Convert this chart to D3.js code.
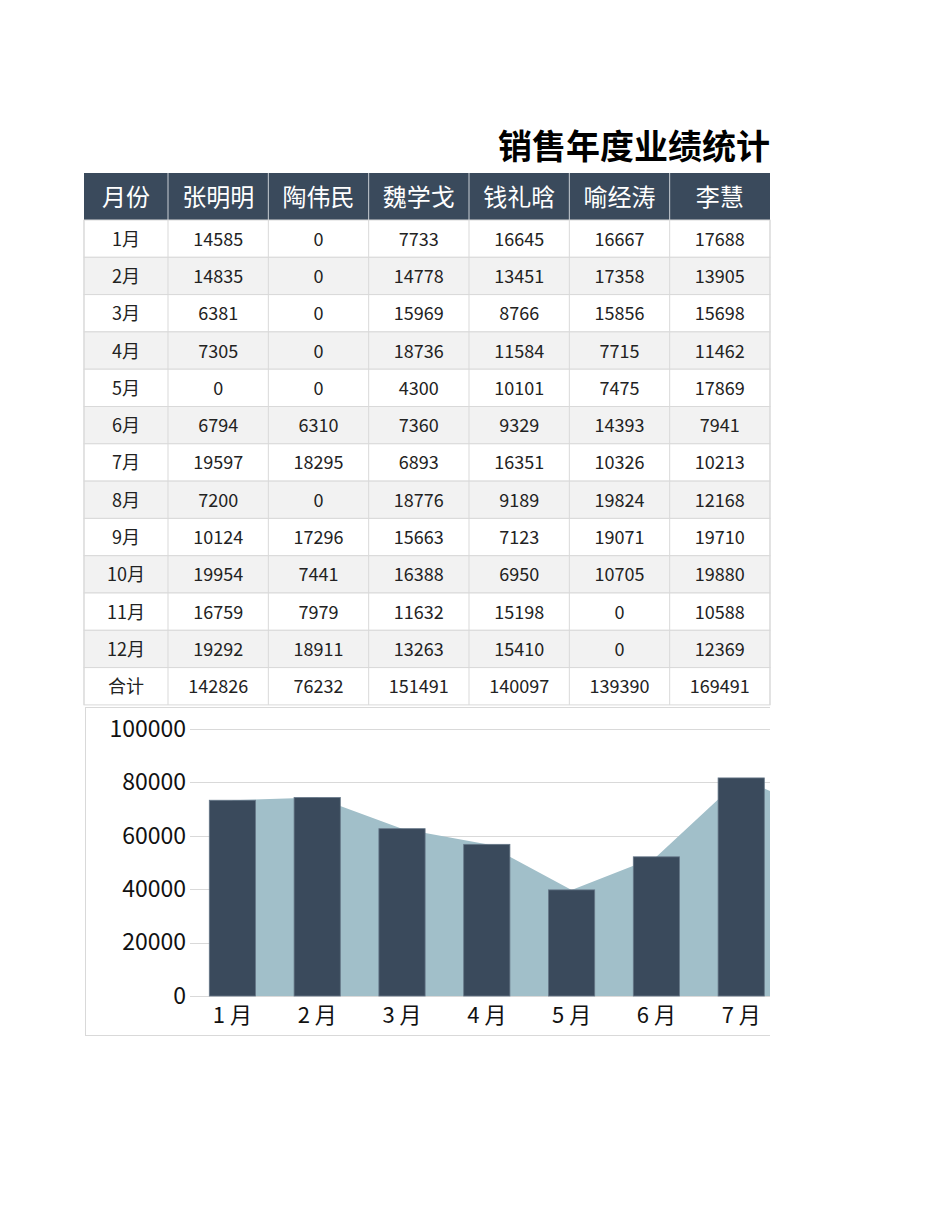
<!DOCTYPE html>
<html>
<head>
<meta charset="utf-8">
<script src="https://cdn.jsdelivr.net/npm/d3@7"></script>
<style>
  body { margin: 0; background: #fff; }
  svg text { font-family: "Noto Sans CJK SC", "Microsoft YaHei", sans-serif; }
</style>
</head>
<body>
<div id="page"></div>
<script>
// Data read from the sheet
var title = '销售年度业绩统计';
var firstHeader = '月份';
var totalLabel = '合计';
var months = ['1月', '2月', '3月', '4月', '5月', '6月', '7月', '8月', '9月', '10月', '11月', '12月'];
var people = ['张明明', '陶伟民', '魏学戈', '钱礼晗', '喻经涛', '李慧'];
var zhangMingming = [14585, 14835, 6381, 7305, 0, 6794, 19597, 7200, 10124, 19954, 16759, 19292];
var taoWeimin = [0, 0, 0, 0, 0, 6310, 18295, 0, 17296, 7441, 7979, 18911];
var weiXuege = [7733, 14778, 15969, 18736, 4300, 7360, 6893, 18776, 15663, 16388, 11632, 13263];
var qianLihan = [16645, 13451, 8766, 11584, 10101, 9329, 16351, 9189, 7123, 6950, 15198, 15410];
var yuJingtao = [16667, 17358, 15856, 7715, 7475, 14393, 10326, 19824, 19071, 10705, 0, 0];
var liHui = [17688, 13905, 15698, 11462, 17869, 7941, 10213, 12168, 19710, 19880, 10588, 12369];
var yTicks = [0, 20000, 40000, 60000, 80000, 100000];

(function() {

	var series = [zhangMingming, taoWeimin, weiXuege, qianLihan, yuJingtao, liHui];
	var dark = '#3a4a5c',
		light = '#a1bfc9',
		grid = '#d9d9d9',
		numFont = '"Open Sans", "Noto Sans CJK SC", sans-serif';

	// Month totals and person totals
	var monthTotals = months.map(function(m, i) {
		return d3.sum(series, function(s) { return s[i]; });
	});
	var personTotals = series.map(function(s) { return d3.sum(s); });

	var svg = d3.select('#page').append('svg')
		.attr('width', 950)
		.attr('height', 1230);

	// Title
	svg.append('text')
		.attr('x', 770)
		.attr('y', 159)
		.attr('text-anchor', 'end')
		.attr('font-size', 34)
		.attr('font-weight', 'bold')
		.attr('fill', '#000')
		.text(title);

	// Table layout
	var tableLeft = 84,
		tableRight = 770,
		firstColW = 84,
		headTop = 173,
		headH = 47,
		rowH = 37.3;

	var xCol = d3.scaleBand()
		.domain(people)
		.range([tableLeft + firstColW, tableRight]);

	var rows = months.map(function(m, i) {
		return [m].concat(series.map(function(s) { return s[i]; }));
	});
	rows.push([totalLabel].concat(personTotals));

	var colX = [tableLeft].concat(people.map(function(p) { return xCol(p); }));
	var colW = [firstColW].concat(people.map(function() { return xCol.bandwidth(); }));

	var gTable = svg.append('g').attr('class', 'table');

	// Header
	var header = [firstHeader].concat(people);
	gTable.append('rect')
		.attr('x', tableLeft)
		.attr('y', headTop)
		.attr('width', tableRight - tableLeft)
		.attr('height', headH)
		.attr('fill', dark);
	header.forEach(function(h, j) {
		if (j > 0) {
			gTable.append('line')
				.attr('x1', colX[j]).attr('x2', colX[j])
				.attr('y1', headTop).attr('y2', headTop + headH)
				.attr('stroke', '#c8ced4')
				.attr('stroke-width', 1);
		}
		gTable.append('text')
			.attr('x', colX[j] + colW[j] / 2)
			.attr('y', headTop + headH / 2 + 9)
			.attr('text-anchor', 'middle')
			.attr('font-size', 24)
			.attr('fill', '#fff')
			.text(h);
	});

	// Body rows
	var bodyTop = headTop + headH;
	rows.forEach(function(r, i) {
		var y = bodyTop + i * rowH;
		gTable.append('rect')
			.attr('x', tableLeft)
			.attr('y', y)
			.attr('width', tableRight - tableLeft)
			.attr('height', rowH)
			.attr('fill', i % 2 === 1 ? '#f2f2f2' : '#fff')
			.attr('stroke', grid)
			.attr('stroke-width', 1);
		r.forEach(function(v, j) {
			gTable.append('text')
				.attr('x', colX[j] + colW[j] / 2)
				.attr('y', y + rowH / 2 + 7)
				.attr('text-anchor', 'middle')
				.attr('font-size', 18)
				.attr('font-family', typeof v === 'number' ? numFont : null)
				.attr('fill', '#222')
				.text(v);
		});
	});
	// Vertical grid lines of body
	colX.slice(1).concat([tableRight, tableLeft]).forEach(function(x) {
		gTable.append('line')
			.attr('x1', x).attr('x2', x)
			.attr('y1', bodyTop).attr('y2', bodyTop + rows.length * rowH)
			.attr('stroke', grid)
			.attr('stroke-width', 1);
	});

	// Chart
	var chartTop = 707,
		chartBottom = 1035,
		chartLeft = 85,
		clipRight = 770,
		plotLeft = 190,
		step = 84.8,
		plotTop = 729,
		plotBottom = 996;

	svg.append('defs').append('clipPath')
		.attr('id', 'chartClip')
		.append('rect')
		.attr('x', chartLeft - 1)
		.attr('y', chartTop - 1)
		.attr('width', clipRight - chartLeft + 1)
		.attr('height', chartBottom - chartTop + 2);

	var gChart = svg.append('g').attr('clip-path', 'url(#chartClip)');

	// Frame (right side is cut by the print area)
	gChart.append('rect')
		.attr('x', chartLeft + 0.5)
		.attr('y', chartTop + 0.5)
		.attr('width', 1300)
		.attr('height', chartBottom - chartTop)
		.attr('fill', '#fff')
		.attr('stroke', grid);

	var xScale = d3.scaleBand()
		.domain(months)
		.range([plotLeft, plotLeft + step * months.length])
		.paddingInner(0.455)
		.paddingOuter(0.2275);
	var yScale = d3.scaleLinear()
		.domain([0, 100000])
		.range([plotBottom, plotTop]);

	// Gridlines
	gChart.append('g')
		.selectAll('line')
		.data(yTicks)
		.enter()
		.append('line')
		.attr('x1', plotLeft)
		.attr('x2', plotLeft + step * months.length)
		.attr('y1', function(d) { return Math.round(yScale(d)) + 0.5; })
		.attr('y2', function(d) { return Math.round(yScale(d)) + 0.5; })
		.attr('stroke', grid)
		.attr('stroke-width', 1);

	// Area at category centers
	var area = d3.area()
		.x(function(d, i) { return xScale(months[i]) + xScale.bandwidth() / 2; })
		.y0(yScale(0))
		.y1(function(d) { return yScale(d); });
	gChart.append('path')
		.datum(monthTotals)
		.attr('d', area)
		.attr('fill', light);

	// Bars
	gChart.append('g')
		.selectAll('rect')
		.data(monthTotals)
		.enter()
		.append('rect')
		.attr('x', function(d, i) { return xScale(months[i]); })
		.attr('width', xScale.bandwidth())
		.attr('y', function(d) { return yScale(d); })
		.attr('height', function(d) { return yScale(0) - yScale(d); })
		.attr('fill', dark)
		.attr('stroke', '#667788')
		.attr('stroke-width', 0.8);

	// Y axis labels
	var yAxis = d3.axisLeft(yScale)
		.tickValues(yTicks)
		.tickSize(0)
		.tickPadding(4)
		.tickFormat(d3.format('d'));
	var gY = gChart.append('g')
		.attr('transform', 'translate(' + plotLeft + ',0)')
		.call(yAxis);
	gY.select('.domain').remove();
	gY.selectAll('text')
		.attr('font-size', 23)
		.attr('fill', '#111')
		.attr('font-family', numFont);

	// X axis labels, only those inside the printed area
	var shownMonths = months.filter(function(m) {
		return xScale(m) + xScale.bandwidth() / 2 < clipRight;
	});
	var xAxis = d3.axisBottom(xScale)
		.tickValues(shownMonths)
		.tickSize(0)
		.tickPadding(11)
		.tickFormat(function(d) { return d.replace('月', ' 月'); });
	var gX = gChart.append('g')
		.attr('transform', 'translate(0,' + plotBottom + ')')
		.call(xAxis);
	gX.select('.domain').remove();
	gX.selectAll('text')
		.attr('font-size', 22)
		.attr('fill', '#111')
		.attr('font-family', numFont);

})();
</script>
</body>
</html>
